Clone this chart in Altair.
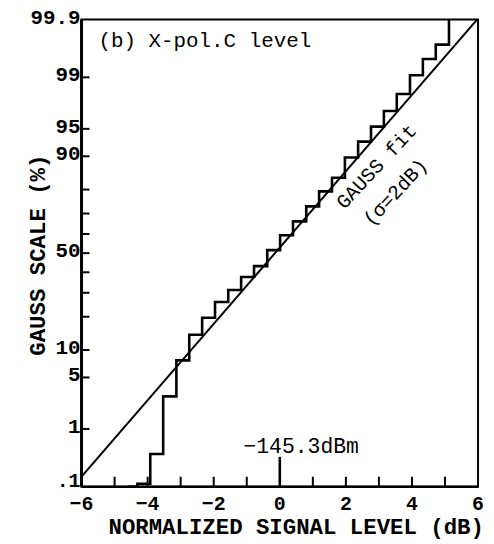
import altair as alt
import pandas as pd
from statistics import NormalDist

_nd = NormalDist()


def probit(p):
    return _nd.inv_cdf(p / 100.0)


# ---- data ----
# empirical distribution (staircase): riser positions (dB) and level after each riser (%)
step_x = [-4.6, -4.31, -3.92, -3.53, -3.13, -2.74, -2.35, -1.96, -1.56, -1.17, -0.78,
          -0.38, 0.01, 0.40, 0.80, 1.19, 1.58, 1.97, 2.37, 2.76, 3.15, 3.54, 3.94,
          4.33, 4.72, 5.12]
step_pct = [0.1, 0.114, 0.393, 2.9, 7.8, 14.0, 19.6, 25.9, 31.3, 37.6, 43.2,
            51.6, 59.4, 66.3, 73.2, 79.3, 84.1, 89.7, 93.0, 95.3, 97.0, 98.24, 99.07,
            99.49, 99.71, 99.9]

# Gauss fit line (sigma = 2 dB), end points
fit_x = [-6.0, 5.97]
fit_pct = [0.155, 99.9]

# axes
y_label_pct = [99.9, 99, 95, 90, 50, 10, 5, 1]
y_label_txt = ["99.9", "99", "95", "90", "50", "10", "5", "1"]
y_bottom_pct = [0.1]
y_bottom_txt = [".1"]
y_tick_pct = [1, 5, 10, 20, 30, 40, 50, 60, 70, 80, 90, 95, 99]
x_label_vals = [-6, -4, -2, 0, 2, 4, 6]
x_tick_vals = [-5, -4, -3, -2, -1, 1, 2, 3, 4, 5]
ref_tick = [0]

FONT = "Liberation Mono"
W, H = 399, 470
zlo, zhi = probit(0.1), probit(99.9)

xs = alt.Scale(domain=[-6, 6], nice=False, zero=False)
ys = alt.Scale(domain=[zlo, zhi], nice=False, zero=False)

step_df = pd.DataFrame({"x": step_x, "z": [probit(p) for p in step_pct]})
fit_df = pd.DataFrame({"x": fit_x, "z": [probit(p) for p in fit_pct]})
ylab_df = pd.DataFrame({"z": [probit(p) for p in y_label_pct], "t": y_label_txt})
ybot_df = pd.DataFrame({"z": [probit(p) for p in y_bottom_pct], "t": y_bottom_txt})
ytick_df = pd.DataFrame({"z": [probit(p) for p in y_tick_pct]})
xlab_df = pd.DataFrame({"x": x_label_vals, "t": [str(v).replace("-", "\u2212") for v in x_label_vals]})
xtick_df = pd.DataFrame({"x": x_tick_vals})
ref_df = pd.DataFrame({"x": ref_tick})
one = pd.DataFrame({"a": [0]})

X = lambda f: alt.X(f, type="quantitative", scale=xs, axis=None)
Y = lambda f: alt.Y(f, type="quantitative", scale=ys, axis=None)

steps = alt.Chart(step_df).mark_line(interpolate="step-after", color="black", strokeWidth=2.6).encode(
    x=X("x"), y=Y("z"), order=alt.Order("x:Q"))
fit = alt.Chart(fit_df).mark_line(color="black", strokeWidth=2).encode(x=X("x"), y=Y("z"))

left_edge = alt.Chart(one).mark_rule(color="black", strokeWidth=3).encode(
    x=alt.value(0), y=alt.value(0), y2=alt.value(H))
bottom_edge = alt.Chart(one).mark_rule(color="black", strokeWidth=2.6).encode(
    x=alt.value(0), x2=alt.value(W), y=alt.value(H))

yticks = alt.Chart(ytick_df).mark_rule(color="black", strokeWidth=2).encode(
    y=Y("z"), x=alt.value(0), x2=alt.value(8))
xticks = alt.Chart(xtick_df).mark_rule(color="black", strokeWidth=2).encode(
    x=X("x"), y=alt.value(H), y2=alt.value(H - 10))
reftick = alt.Chart(ref_df).mark_rule(color="black", strokeWidth=2.6).encode(
    x=X("x"), y=alt.value(H), y2=alt.value(H - 30))

ylabels = alt.Chart(ylab_df).mark_text(font=FONT, fontSize=21, fontWeight="bold", align="right",
                                       baseline="middle", color="black", dy=-2).encode(
    y=Y("z"), x=alt.value(-1), text="t:N")
ybottom = alt.Chart(ybot_df).mark_text(font=FONT, fontSize=20, fontWeight="bold", align="right",
                                       baseline="middle", color="black", dy=-6).encode(
    y=Y("z"), x=alt.value(-1), text="t:N")
xlabels = alt.Chart(xlab_df).mark_text(font=FONT, fontSize=20, fontWeight="bold", align="center",
                                       baseline="middle", color="black").encode(
    x=X("x"), y=alt.value(H + 17), text="t:N")


def txt(s, x, y, size=22, angle=0, align="center", weight="bold"):
    return alt.Chart(one).mark_text(font=FONT, fontSize=size, fontWeight=weight, align=align,
                                    baseline="middle", angle=angle, color="black").encode(
        x=alt.value(x), y=alt.value(y), text=alt.value(s))


panel = txt("(b) X-pol.C level", 17, 22, size=21, align="left", weight="normal")
ref_lbl = txt("\u2212145.3dBm", 221, 430, size=21.5, weight="normal")
fit_lbl = txt("GAUSS fit", 297, 148, size=20, angle=313, weight="normal")
sig_lbl = txt("(\u03c3=2dB)", 316, 174, size=20, angle=313, weight="normal")
xtitle = txt("NORMALIZED SIGNAL LEVEL (dB)", 216, H + 41, size=22.5)
ytitle = txt("GAUSS SCALE (%)", -44, 237, size=22.5, angle=270)

chart = alt.layer(
    fit, steps, left_edge, bottom_edge, yticks, xticks, reftick,
    ylabels, ybottom, xlabels, panel, ref_lbl, fit_lbl, sig_lbl, xtitle, ytitle
).properties(
    width=W, height=H,
    padding={"left": 74, "top": 10, "right": 8, "bottom": 56},
    autosize=alt.AutoSizeParams(type="none"),
    background="white",
).configure_view(stroke="black", strokeWidth=2)

chart.save("out.html", embed_options={"renderer": "svg", "actions": False})
